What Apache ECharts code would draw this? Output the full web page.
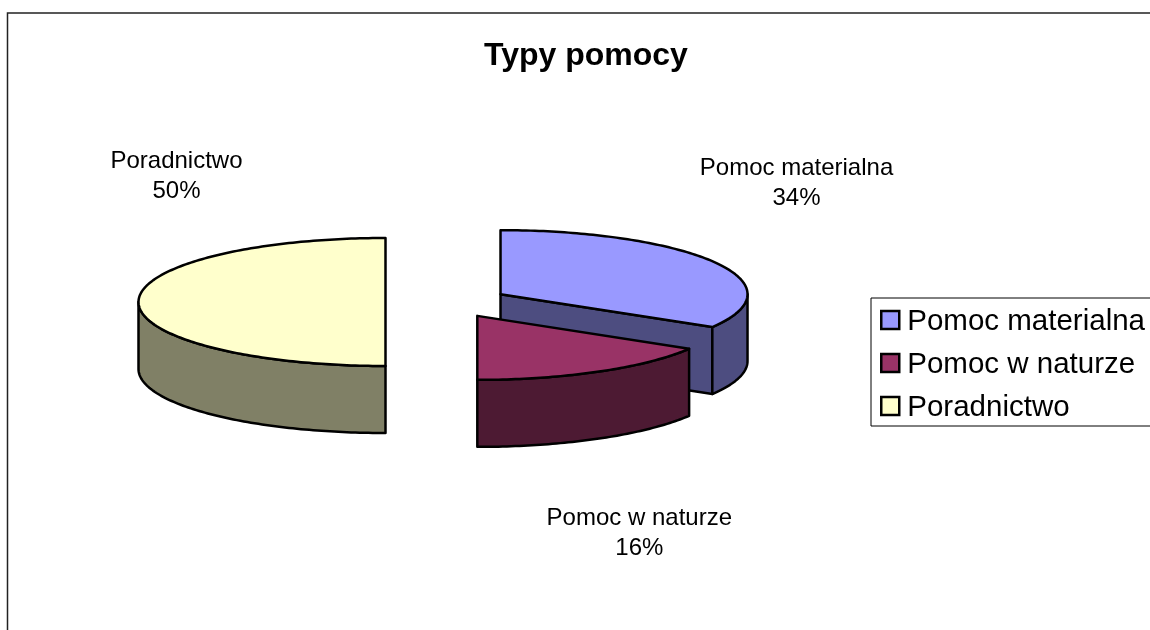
<!DOCTYPE html>
<html>
<head>
<meta charset="utf-8">
<style>html,body{margin:0;padding:0;background:#fff}#c{width:1150px;height:630px}</style>
<script src="https://cdn.jsdelivr.net/npm/echarts@6/dist/echarts.min.js"></script>
</head>
<body>
<div id="c"></div>
<script>
// Data
const chartTitle = 'Typy pomocy';
const categories = ['Pomoc materialna', 'Pomoc w naturze', 'Poradnictwo'];
const values = [33.6, 16.4, 50];

// Styles and layout
const topColors = ['#9999ff', '#993366', '#ffffcc'];
const sideColors = ['#4d4d80', '#4d1a33', '#808066'];
const labelOffsets = [[296, -111], [162, 218], [-209, -126]];
const FONT = '"Liberation Sans", Arial, sans-serif';
const PIE = { cx: 447, cy: 302, rx: 247, ry: 64, depth: 67, explode: 61.5 };

const total = values.reduce((a, b) => a + b, 0);
const starts = values.map((_, i) => values.slice(0, i).reduce((a, b) => a + b, 0) / total * 360);
const ends = values.map((v, i) => starts[i] + v / total * 360);
const rad = d => d * Math.PI / 180;

function sliceCentre(i) {
  const mid = rad((starts[i] + ends[i]) / 2);
  return [
    PIE.cx + PIE.explode * Math.sin(mid),
    PIE.cy - PIE.explode * Math.cos(mid) * PIE.ry / PIE.rx
  ];
}
function rim(c, a) {
  return [c[0] + PIE.rx * Math.sin(rad(a)), c[1] - PIE.ry * Math.cos(rad(a))];
}
function arcPoints(c, a0, a1) {
  const n = Math.max(2, Math.ceil(Math.abs(a1 - a0)));
  const pts = [];
  for (let k = 0; k <= n; k++) pts.push(rim(c, a0 + (a1 - a0) * k / n));
  return pts;
}
function down(pts) { return pts.map(p => [p[0], p[1] + PIE.depth]); }

function renderSlice(i) {
  const c = sliceCentre(i), a0 = starts[i], a1 = ends[i];
  const stroke = { stroke: '#000', lineWidth: 2.5, lineJoin: 'round' };
  const children = [];
  const wall = (a) => {
    const e = rim(c, a);
    children.push({
      type: 'polygon',
      shape: { points: [c, e, [e[0], e[1] + PIE.depth], [c[0], c[1] + PIE.depth]] },
      style: Object.assign({ fill: sideColors[i] }, stroke)
    });
  };
  // Radial walls that face the viewer
  if (Math.sin(rad(a1)) > 1e-6) wall(a1);
  if (Math.sin(rad(a0)) < -1e-6) wall(a0);
  // Outer rim: only the front half of the ellipse is visible
  const f0 = Math.max(a0, 90), f1 = Math.min(a1, 270);
  if (f1 > f0) {
    const arc = arcPoints(c, f0, f1);
    children.push({
      type: 'polygon',
      shape: { points: arc.concat(down(arc).reverse()) },
      style: Object.assign({ fill: sideColors[i] }, stroke)
    });
  }
  // Top face
  children.push({
    type: 'polygon',
    shape: { points: [c].concat(arcPoints(c, a0, a1)) },
    style: Object.assign({ fill: topColors[i] }, stroke)
  });
  // Label
  children.push({
    type: 'text',
    style: {
      x: c[0] + labelOffsets[i][0],
      y: c[1] + labelOffsets[i][1],
      text: categories[i] + '\n' + Math.round(values[i] / total * 100) + '%',
      font: '24px ' + FONT,
      lineHeight: 30,
      fill: '#000',
      align: 'center',
      verticalAlign: 'middle'
    }
  });
  return { type: 'group', children };
}

// Draw order matches the reference: far slices first
const drawOrder = [2, 0, 1];
const series = drawOrder.map((i, z) => ({
  type: 'custom',
  name: categories[i],
  coordinateSystem: 'none',
  data: [values[i]],
  z: 2 + z,
  silent: true,
  itemStyle: { color: topColors[i] },
  renderItem: () => renderSlice(i)
}));

const chart = echarts.init(document.getElementById('c'), null, { renderer: 'canvas' });
chart.setOption({
  animation: false,
  backgroundColor: '#fff',
  title: {
    text: chartTitle,
    left: 479,
    top: 35,
    textStyle: { fontFamily: FONT, fontSize: 32, fontWeight: 'bold', color: '#000' }
  },
  legend: {
    data: categories,
    orient: 'vertical',
    left: 871,
    top: 298,
    padding: [5, 20, 3, 9],
    itemWidth: 18,
    itemHeight: 18,
    itemGap: 9,
    icon: 'rect',
    selectedMode: false,
    borderColor: '#000',
    borderWidth: 1,
    itemStyle: { borderColor: '#000', borderWidth: 2.5 },
    formatter: '{a|{name}}',
    textStyle: {
      rich: { a: { fontFamily: FONT, fontSize: 29.5, color: '#000', lineHeight: 30, padding: [4, 0, 0, 3] } }
    }
  },
  graphic: [{
    type: 'polyline',
    shape: { points: [[7.5, 630], [7.5, 13], [1150, 13]] },
    style: { stroke: '#222', lineWidth: 1.5, fill: null }
  }],
  series
});
</script>
</body>
</html>
